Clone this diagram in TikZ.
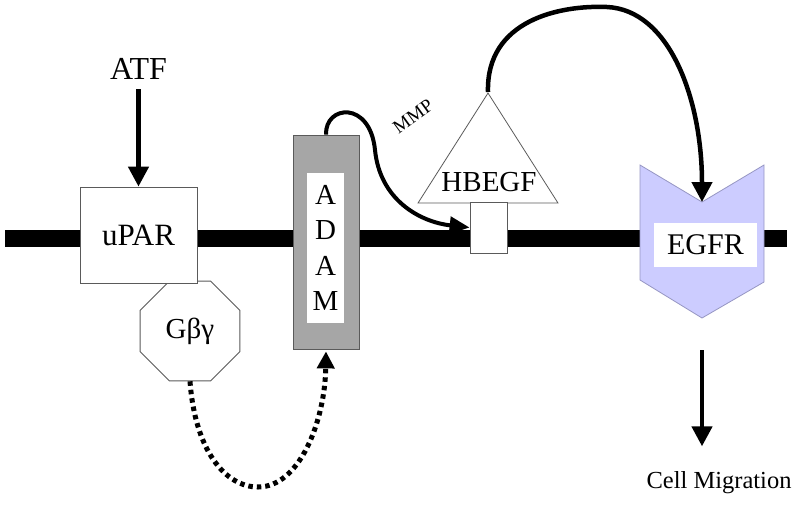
\documentclass[tikz,border=0pt]{standalone}
\usepackage{fontspec}
\setmainfont{Liberation Serif}
\usepackage{tikz}
\usetikzlibrary{arrows.meta,shapes,positioning}
\definecolor{dfgray}{RGB}{166,166,166}
\definecolor{dflavender}{RGB}{204,204,255}
\definecolor{dfedge}{RGB}{90,90,90}
\definecolor{dflavedge}{RGB}{150,150,195}
\tikzstyle{arrow} = [line width=4.5pt,-{Triangle[length=20pt,width=20pt]}]
\tikzstyle{dotarrow} = [line width=5pt,dash pattern=on 4.5pt off 4pt,-{Triangle[length=17pt,width=17pt]}]
\tikzstyle{protein} = [rectangle, draw=dfedge, fill=white, line width=0.8pt, font=\fontsize{31}{33}\selectfont]
\tikzstyle{bigtext} = [font=\fontsize{30}{32}\selectfont]

\begin{document}
\begin{tikzpicture}[x=1pt, y=-1pt]
\useasboundingbox (0,0) rectangle (800,504);
% membrane
\draw[line width=17pt] (5,238) -- (787,238);

\node (gby) [regular polygon, regular polygon sides=8, minimum size=108pt, inner sep=0pt, draw=dfedge, fill=white, line width=0.8pt, font=\fontsize{29}{31}\selectfont] at (190,331) {Gβγ};
\node (upar) [protein, minimum width=117pt, minimum height=96pt] at (138.5,235) {uPAR};
\node (atf) [above of=upar, node distance=166pt, font=\fontsize{32}{34}\selectfont] {ATF};
\draw[arrow, shorten <=6pt] (atf) -- (upar);

\node (adam) [protein, fill=dfgray, minimum width=66pt, minimum height=214pt] at (326,242) {};
\node (adamtext) [rectangle, fill=white, minimum width=37pt, minimum height=150pt, align=center, font=\fontsize{29}{35.5}\selectfont] at (325.5,248) {A\\D\\A\\M};

\node (hbegf) [isosceles triangle, isosceles triangle stretches, shape border rotate=90, minimum width=140pt, minimum height=110pt, inner sep=0pt, draw=dfedge, fill=white, line width=0.8pt, anchor=apex] at (488,92) {};
\node (stem) [protein, minimum width=37pt, minimum height=51pt] at (488.5,227.5) {};
\node (hbtext) [font=\fontsize{29}{31}\selectfont] at (489,182) {HBEGF};

% EGFR receptor
\coordinate (egfrtop) at (702,202);
\coordinate (egfrbot) at (702,318);
\filldraw[fill=dflavender, draw=dflavedge, line width=0.8pt] (640,165) -- (egfrtop) -- (764,165) -- (764,282) -- (egfrbot) -- (640,280) -- cycle;
\node (egfr) [rectangle, fill=white, minimum width=103pt, minimum height=44pt, bigtext] at (705.5,245) {EGFR};
\node (mig) [font=\fontsize{24.5}{26}\selectfont] at (719,483) {Cell Migration};

\draw[line width=4pt, -{Triangle[length=20pt,width=17pt]}] (adam.north) .. controls (325,105) and (370,100) .. (375,150) .. controls (380,200) and (420,222) .. (stem.west);
\node (mmp) [rotate=36, inner sep=0pt, font=\fontsize{19}{19}\selectfont] at (413,116) {MMP};

\draw[arrow] (hbegf.apex) .. controls (486,20) and (560,5) .. (607,7) .. controls (670,10) and (702,100) .. (egfrtop);
\draw[dotarrow, shorten >=2pt] (gby.south) .. controls (195,450) and (225,487) .. (258,487) .. controls (300,487) and (325,420) .. (adam.south);
\draw[arrow, shorten <=32pt, shorten >=22pt] (egfrbot) -- (egfrbot |- mig.north);
\end{tikzpicture}
\end{document}
